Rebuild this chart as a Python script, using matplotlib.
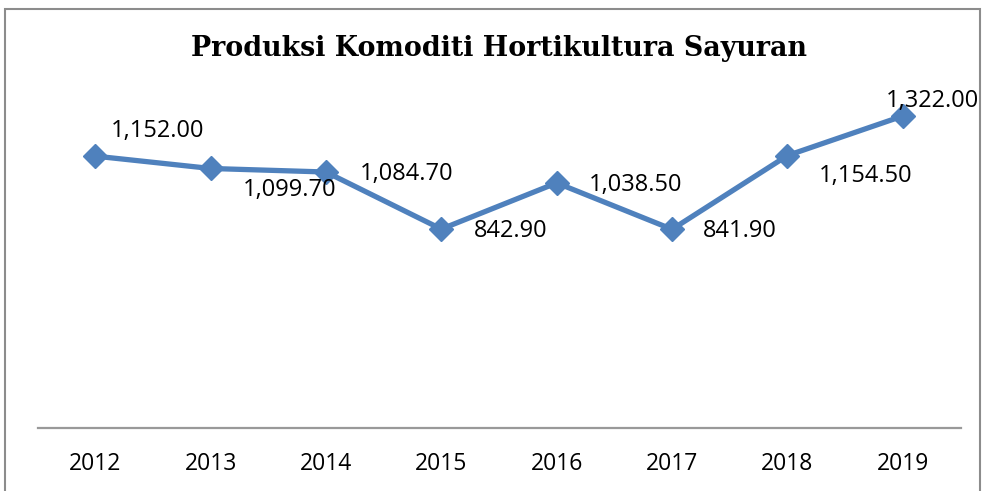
import matplotlib
matplotlib.use("Agg")
import matplotlib.pyplot as plt
from matplotlib.patches import Rectangle

years = ["2012", "2013", "2014", "2015", "2016", "2017", "2018", "2019"]
values = [1152.00, 1099.70, 1084.70, 842.90, 1038.50, 841.90, 1154.50, 1322.00]
title = "Produksi Komoditi Hortikultura Sayuran"

# label offsets in pixels (dx, dy down-positive)
label_offsets_px = [(62, -25), (79, 22), (81, 2), (69, 2), (79, 2), (68, 2), (78, 20), (30, -15)]

W, H = 985, 491
fig = plt.figure(figsize=(W / 100, H / 100), dpi=100)
fig.patch.set_facecolor("white")

# outer border
fig.add_artist(Rectangle((5 / W, -0.05), (980 - 5) / W, 1.05 - 9 / H, transform=fig.transFigure,
                         fill=False, edgecolor="#8c8c8c", linewidth=1.5))

ax = fig.add_axes([37.5 / W, 1 - 428 / H, (960.5 - 37.5) / W, (428 - 97.6) / H])
x = list(range(len(years)))
color = "#4F81BD"
ax.plot(x, values, color=color, linewidth=3.8, marker="D", markersize=12,
        markerfacecolor=color, markeredgecolor=color, solid_joinstyle="round")
ax.set_xlim(-0.5, len(years) - 0.5)
ax.set_ylim(0, 1400)
ax.set_xticks(x)
ax.set_xticklabels(years, fontfamily="Open Sans", fontsize=16.5)
ax.tick_params(axis="x", length=0, pad=17)
ax.set_yticks([])
for s in ["top", "right", "left"]:
    ax.spines[s].set_visible(False)
ax.spines["bottom"].set_color("#999999")
ax.spines["bottom"].set_linewidth(1.6)
ax.patch.set_alpha(0)

for xi, v, (dx, dy) in zip(x, values, label_offsets_px):
    ax.annotate(f"{v:,.2f}", (xi, v), xytext=(dx * 0.72, -dy * 0.72), textcoords="offset points",
                ha="center", va="center", fontfamily="Open Sans", fontsize=17, color="black")

fig.text(499 / W, 1 - 48 / H, title, ha="center", va="center", fontfamily="DejaVu Serif",
         fontweight="bold", fontsize=19.4)

fig.savefig("out.png", dpi=100)
